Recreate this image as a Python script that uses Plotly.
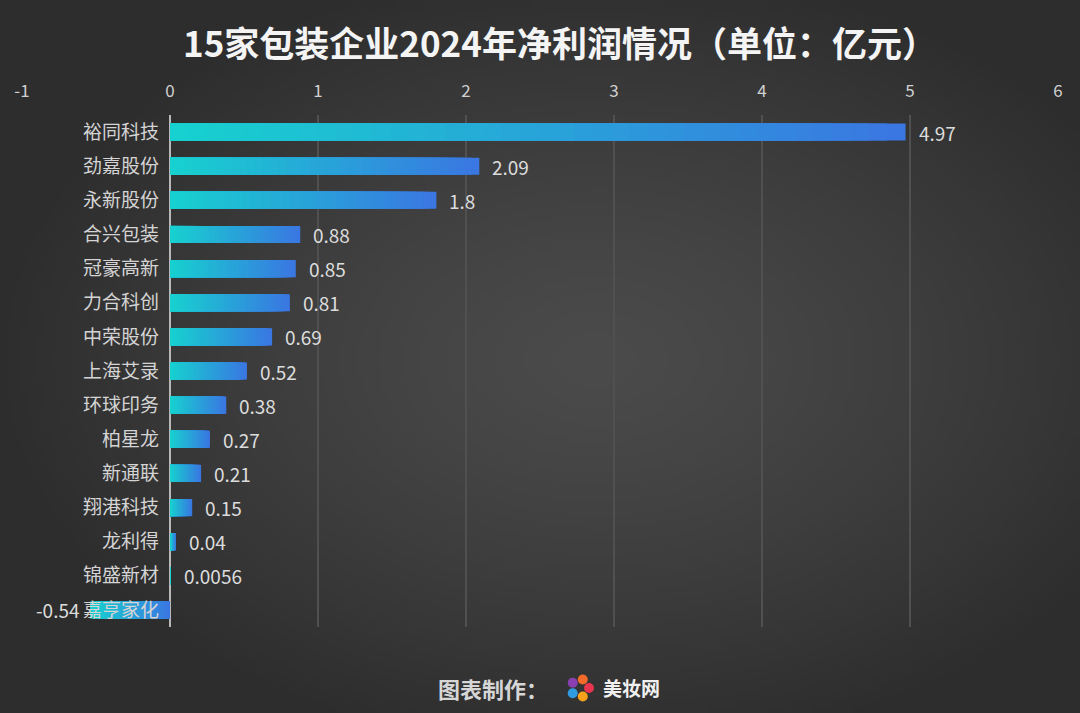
import base64
import struct
import zlib

import numpy as np
import plotly.graph_objects as go

# ---------------- data ----------------
companies = ["裕同科技", "劲嘉股份", "永新股份", "合兴包装", "冠豪高新", "力合科创", "中荣股份",
             "上海艾录", "环球印务", "柏星龙", "新通联", "翔港科技", "龙利得", "锦盛新材", "嘉亨家化"]
net_profit = [4.97, 2.09, 1.8, 0.88, 0.85, 0.81, 0.69, 0.52, 0.38, 0.27, 0.21, 0.15, 0.04, 0.0056, -0.54]
x_ticks = [-1, 0, 1, 2, 3, 4, 5, 6]
title_text = "15家包装企业2024年净利润情况（单位：亿元）"
credit_text = "图表制作："
brand_text = "美妆网"

# ---------------- style ----------------
W, H = 1080, 713
ML, MR, MT, MB = 22, 22, 115, 86
FONT = "Noto Sans CJK SC"
C0 = np.array([0x16, 0xd2, 0xcf])  # cyan
C1 = np.array([0x3a, 0x76, 0xe2])  # blue
N_SEG = 40


def mix(t):
    c = (C0 + (C1 - C0) * t).round().astype(int)
    return f"rgb({c[0]},{c[1]},{c[2]})"


def png_data_uri(arr):
    h, w, _ = arr.shape
    raw = b"".join(b"\x00" + arr[r].astype(np.uint8).tobytes() for r in range(h))

    def chunk(tag, data):
        return struct.pack(">I", len(data)) + tag + data + struct.pack(">I", zlib.crc32(tag + data) & 0xffffffff)

    png = (b"\x89PNG\r\n\x1a\n" + chunk(b"IHDR", struct.pack(">IIBBBBB", w, h, 8, 2, 0, 0, 0))
           + chunk(b"IDAT", zlib.compress(raw, 9)) + chunk(b"IEND", b""))
    return "data:image/png;base64," + base64.b64encode(png).decode()


# radial background gradient
gw, gh = 216, 143
yy, xx = np.mgrid[0:gh, 0:gw]
d = np.sqrt(((xx / gw - 0.55) / 0.75) ** 2 + ((yy / gh - 0.5) / 0.75) ** 2)
d = np.clip(d / 0.75, 0, 1)
inner, outer = 0x4b, 0x2d
v = inner + (outer - inner) * d ** 1.3
bg = np.stack([v, v, v], axis=-1)

fig = go.Figure()

# gradient bars: overlaid copies of each bar, longest first, each shorter copy
# coloured for its own far end, so the visible steps form a smooth gradient
for k in range(N_SEG):
    f = (N_SEG - k) / N_SEG
    t = f - 0.5 / N_SEG
    cols = [mix(t) if val >= 0 else mix(1 - t) for val in net_profit]
    fig.add_trace(go.Bar(
        y=companies, x=[val * f for val in net_profit], orientation="h",
        marker=dict(color=cols, line=dict(width=0)),
        showlegend=False, hoverinfo="skip",
    ))

# value labels
for name, val in zip(companies, net_profit):
    fig.add_annotation(
        x=val, y=name, text=str(val), showarrow=False,
        xanchor="left" if val >= 0 else "right", xshift=11 if val >= 0 else -8,
        font=dict(family=FONT, size=19, color="#dcdcdc"),
    )

pw = W - ML - MR
ph = H - MT - MB
fig.add_layout_image(dict(
    source=png_data_uri(bg), xref="paper", yref="paper",
    x=-ML / pw, y=1 + MT / ph, sizex=W / pw, sizey=H / ph,
    xanchor="left", yanchor="top", sizing="stretch", layer="below",
))

fig.add_annotation(
    text=f"<b>{title_text}</b>", xref="paper", yref="paper",
    x=(560 - ML) / pw, y=1 + (MT - 41) / ph, xanchor="center", yanchor="middle",
    showarrow=False, font=dict(family=FONT, size=35, color="#f4f4f4"),
)
fig.add_annotation(
    text=f"<b>{credit_text}</b>", xref="paper", yref="paper",
    x=(550 - ML) / pw, y=-(688 - MT - ph) / ph, xanchor="right", yanchor="middle",
    showarrow=False, font=dict(family=FONT, size=22, color="#d6d6d6"),
)
fig.add_annotation(
    text=f"<b>{brand_text}</b>", xref="paper", yref="paper",
    x=(601 - ML) / pw, y=-(687 - MT - ph) / ph, xanchor="left", yanchor="middle",
    showarrow=False, font=dict(family=FONT, size=19, color="#f0f0f0"),
)
# small colourful logo mark
logo_cols = ["#e8344e", "#f4a21c", "#2f9be0", "#8a3fb0", "#f26b2a"]
for i, c in enumerate(logo_cols):
    ang = i * 2 * np.pi / len(logo_cols)
    cx, cy = 580 + 9 * np.cos(ang), 688 + 9 * np.sin(ang)
    fig.add_shape(type="circle", xref="paper", yref="paper",
                  x0=(cx - 5 - ML) / pw, x1=(cx + 5 - ML) / pw,
                  y0=(MT + ph - cy - 5) / ph, y1=(MT + ph - cy + 5) / ph,
                  fillcolor=c, line=dict(width=0), layer="above")

fig.update_layout(
    width=W, height=H,
    margin=dict(l=ML, r=MR, t=MT, b=MB),
    paper_bgcolor="#3c3c3c", plot_bgcolor="rgba(0,0,0,0)",
    barmode="overlay", bargap=0.5,
    font=dict(family=FONT, color="#d0d0d0"),
    xaxis=dict(
        range=[-1, 6], side="top", tickvals=x_ticks, ticktext=[str(t) for t in x_ticks],
        showgrid=True, gridcolor="#505050", gridwidth=1.5,
        zeroline=True, zerolinecolor="#b8b8b8", zerolinewidth=1.5,
        tickfont=dict(size=17, color="#d0d0d0"), ticklabelstandoff=14,
        showline=False, fixedrange=True,
    ),
    yaxis=dict(
        autorange="reversed", anchor="free", position=1 / 7,
        showgrid=False, zeroline=False, showline=False,
        tickfont=dict(size=19, color="#d4d4d4"), ticklabelstandoff=11,
        ticks="",
    ),
)

fig.write_html("out.html", config={"displayModeBar": False},
               post_script="document.body.style.margin='0';")
